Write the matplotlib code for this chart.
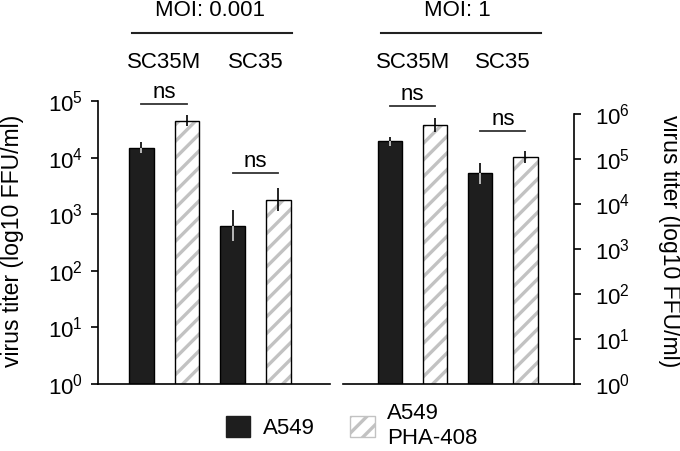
import numpy as np
import matplotlib
matplotlib.use('Agg')
import matplotlib.pyplot as plt
import matplotlib.ticker as mticker
import matplotlib.transforms as mtransforms
from matplotlib.patches import Patch
from matplotlib.lines import Line2D

plt.rcParams['font.family'] = ['Liberation Sans', 'DejaVu Sans']
plt.rcParams['mathtext.fontset'] = 'custom'
plt.rcParams['mathtext.rm'] = 'Liberation Sans'
plt.rcParams['mathtext.it'] = 'Liberation Sans:italic'
plt.rcParams['mathtext.bf'] = 'Liberation Sans:bold'
plt.rcParams['hatch.linewidth'] = 2.4

# ---------------- data ----------------
strains = ['SC35M', 'SC35']
cells = ['A549', 'A549\nPHA-408']
moi_labels = ['MOI: 0.001', 'MOI: 1']

# virus titers (FFU/ml), order: SC35M, SC35
moi0001_a549 = [15000, 630]
moi0001_pha = [45000, 1800]
moi1_a549 = [250000, 48000]
moi1_pha = [570000, 110000]

# error (log10 units)
moi0001_a549_err = [0.10, 0.28]
moi0001_pha_err = [0.10, 0.20]
moi1_a549_err = [0.10, 0.23]
moi1_pha_err = [0.15, 0.14]

# "ns" bracket levels (log10)
ns_moi0001 = [4.95, 3.72]
ns_moi1 = [6.18, 5.63]

left_exponents = [0, 1, 2, 3, 4, 5]
right_exponents = [0, 1, 2, 3, 4, 5, 6]

y_label = 'virus titer (log10 FFU/ml)'

# ---------------- style ----------------
FS = 16
FS_YLAB = 16.6
BLACK = '#1e1e1e'
HATCH_GRAY = '#c2c2c2'
W = 680
H = 451

fig = plt.figure(figsize=(6.8, 4.51), dpi=100)


def fx(px):
    return px / W


def fy(py):
    return 1 - py / H


ax1 = fig.add_axes([fx(98), fy(384), fx(330) - fx(98), fy(101) - fy(384)])
ax2 = fig.add_axes([fx(343), fy(384), fx(574) - fx(343), fy(114) - fy(384)])


def asym_err(vals, errs):
    v = np.asarray(vals, float)
    e = np.asarray(errs, float)
    lo = v - v / 10 ** e
    hi = v * 10 ** e - v
    return np.vstack([lo, hi])


def draw(ax, a549, pha, a_err, p_err, ns_levels, exps, xlim):
    xa = np.arange(len(strains)) * 2.0
    xp = xa + 1
    bw = 0.54
    ax.bar(xa, a549, width=bw, color=BLACK, edgecolor='black', linewidth=1, zorder=2)
    ax.bar(xp, pha, width=bw, color='white', edgecolor=HATCH_GRAY, hatch='//',
           linewidth=0, zorder=2)
    ax.bar(xp, pha, width=bw, fill=False, edgecolor='black', linewidth=1, zorder=3)
    ea = asym_err(a549, a_err)
    ep = asym_err(pha, p_err)
    ax.errorbar(xa, a549, yerr=ea, fmt='none', ecolor='black', elinewidth=1.2,
                capsize=0, zorder=4)
    ax.errorbar(xp, pha, yerr=ep, fmt='none', ecolor='black', elinewidth=1.2,
                capsize=0, zorder=4)
    ax.vlines(xa, np.asarray(a549) - ea[0], a549, color='#d8d8d8', lw=1.2, zorder=5)
    for i, lvl in enumerate(ns_levels):
        y = 10 ** lvl
        ax.plot([xa[i], xp[i]], [y, y], color='#333333', lw=1.3, zorder=4,
                clip_on=False)
        ax.text((xa[i] + xp[i]) / 2, y * 10 ** 0.02, 'ns', ha='center', va='bottom',
                fontsize=FS, clip_on=False)
    ax.set_yscale('log')
    ax.set_ylim(1, 10 ** max(exps))
    ax.set_yticks([10 ** e for e in exps])
    ax.set_yticklabels([r'$10^{%d}$' % e for e in exps])
    ax.yaxis.set_minor_locator(mticker.NullLocator())
    ax.set_xlim(*xlim)
    ax.set_xticks([])
    ax.spines['top'].set_visible(False)
    for s in ax.spines.values():
        s.set_linewidth(1.2)
    ax.tick_params(axis='y', direction='out', length=5, width=1.2, labelsize=FS)
    ax.set_facecolor('none')
    return xa, xp


xa1, xp1 = draw(ax1, moi0001_a549, moi0001_pha, moi0001_a549_err, moi0001_pha_err,
                ns_moi0001, left_exponents, (-0.95, 4.13))
xa2, xp2 = draw(ax2, moi1_a549, moi1_pha, moi1_a549_err, moi1_pha_err,
                ns_moi1, right_exponents, (-1.05, 4.08))

ax1.spines['right'].set_visible(False)
ax1.tick_params(axis='y', pad=6)
ax2.spines['left'].set_visible(False)
ax2.yaxis.tick_right()
ax2.tick_params(axis='y', pad=10)

ax1.set_ylabel(y_label, fontsize=FS_YLAB)
ax1.yaxis.set_label_coords((24 - 98) / 232, 0.505)
ax2.yaxis.set_label_position('right')
ax2.set_ylabel(y_label, fontsize=FS_YLAB, rotation=270, va='center')
ax2.yaxis.set_label_coords((670 - 343) / 231, 0.53)

# group labels on top
for ax, xa, xp, moi, (l0, l1) in [(ax1, xa1, xp1, moi_labels[0], (0.147, 0.836)),
                                   (ax2, xa2, xp2, moi_labels[1], (0.164, 0.857))]:
    tr = mtransforms.blended_transform_factory(ax.transData, fig.transFigure)
    tra = mtransforms.blended_transform_factory(ax.transAxes, fig.transFigure)
    centers = (xa + xp) / 2
    for c, s in zip(centers, strains):
        ax.text(c, fy(63), s, transform=tr, ha='center', va='center', fontsize=FS)
    ax.text(centers.mean(), fy(10), moi, transform=tr, ha='center', va='center',
            fontsize=FS)
    ax.add_line(Line2D([l0, l1], [fy(33), fy(33)], transform=tra, color='#222222',
                       lw=1.5, clip_on=False))

# legend
handles = [Patch(facecolor=BLACK, edgecolor=BLACK),
           Patch(facecolor='white', edgecolor=HATCH_GRAY, hatch='//')]
fig.legend(handles, cells, loc='center left', bbox_to_anchor=(fx(226), fy(426)),
           ncol=2, frameon=False, fontsize=FS, handlelength=1.1, handleheight=1.1,
           handletextpad=0.55, columnspacing=1.6, borderpad=0, borderaxespad=0)

fig.savefig('out.png', dpi=100)
